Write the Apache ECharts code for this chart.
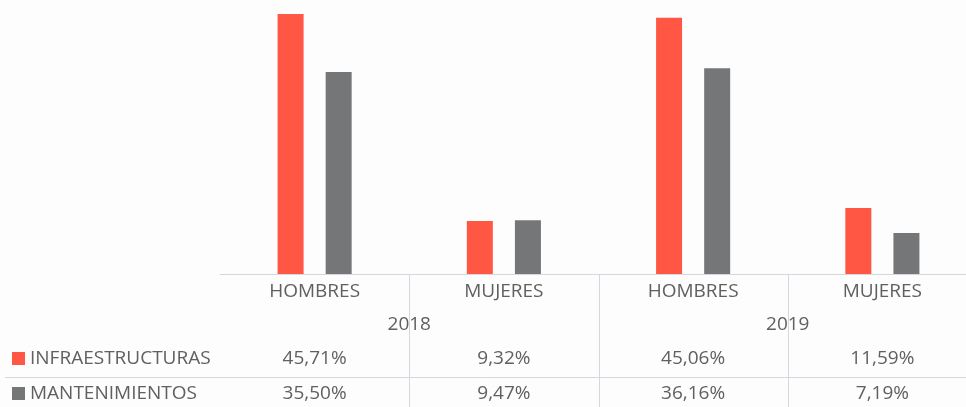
<!DOCTYPE html>
<html><head><meta charset="utf-8">
<script src="https://cdn.jsdelivr.net/npm/echarts@6/dist/echarts.min.js"></script>
<style>html,body{margin:0;padding:0;background:#fdfdfe}#c{width:966px;height:407px}</style>
</head><body><div id="c"></div>
<script>
const categories = ['HOMBRES', 'MUJERES', 'HOMBRES', 'MUJERES'];
const years = ['2018', '2019'];
const seriesNames = ['INFRAESTRUCTURAS', 'MANTENIMIENTOS'];
const infraestructuras = [45.71, 9.32, 45.06, 11.59];
const mantenimientos = [35.50, 9.47, 36.16, 7.19];

const fmt = v => v.toFixed(2).replace('.', ',') + '%';
const textColor = '#606060';
const font = 'Open Sans';
const fs = 19;
const lineColor = '#d3d7df';

const chart = echarts.init(document.getElementById('c'), null, {renderer: 'canvas'});

function labelAxis(data, offset) {
  return {
    type: 'category', data: data, position: 'bottom', offset: offset, gridIndex: 0,
    axisLine: {show: false}, axisTick: {show: false}, splitLine: {show: false},
    axisLabel: {color: textColor, fontFamily: font, fontSize: fs, margin: 8, interval: 0}
  };
}
function legendRow(name, top) {
  return {
    orient: 'horizontal', left: 12, top: top, itemWidth: 13, itemHeight: 13, itemGap: 0,
    icon: 'rect', data: [name], padding: 0, selectedMode: false,
    textStyle: {color: textColor, fontFamily: font, fontSize: fs}
  };
}

const option = {
  backgroundColor: '#fdfdfe',
  animation: false,
  grid: {left: 220, top: 1, width: 757, height: 273, containLabel: false, outerBoundsMode: 'none'},
  legend: [legendRow(seriesNames[0], 349), legendRow(seriesNames[1], 384)],
  xAxis: [
    {
      type: 'category', data: categories, position: 'bottom',
      axisLine: {show: true, lineStyle: {color: lineColor, width: 1}},
      axisTick: {show: false}, splitLine: {show: false},
      axisLabel: {color: textColor, fontFamily: font, fontSize: fs, margin: 8, interval: 0}
    },
    labelAxis(years, 33),
    labelAxis(infraestructuras.map(fmt), 67),
    labelAxis(mantenimientos.map(fmt), 102)
  ],
  yAxis: {type: 'value', min: 0, max: 48, show: false, splitLine: {show: false}},
  series: [
    {name: seriesNames[0], type: 'bar', data: infraestructuras, barWidth: 26, barGap: '85%',
     itemStyle: {color: '#ff5744'}},
    {name: seriesNames[1], type: 'bar', data: mantenimientos, barWidth: 26, barGap: '85%',
     itemStyle: {color: '#747678'}}
  ]
};
chart.setOption(option);

// table separator lines, positioned from the category axis
const centers = categories.map((c, i) => chart.convertToPixel({xAxisIndex: 0}, i));
const graphics = [];
for (let i = 1; i < categories.length; i++) {
  const x = Math.round((centers[i - 1] + centers[i]) / 2) + 0.5;
  graphics.push({type: 'line', shape: {x1: x, y1: 274, x2: x, y2: 407},
    style: {stroke: lineColor, lineWidth: 1}, silent: true});
}
graphics.push({type: 'line', shape: {x1: 5, y1: 377.5, x2: 966, y2: 377.5},
  style: {stroke: lineColor, lineWidth: 1}, silent: true});
chart.setOption({graphic: graphics});
</script></body></html>
